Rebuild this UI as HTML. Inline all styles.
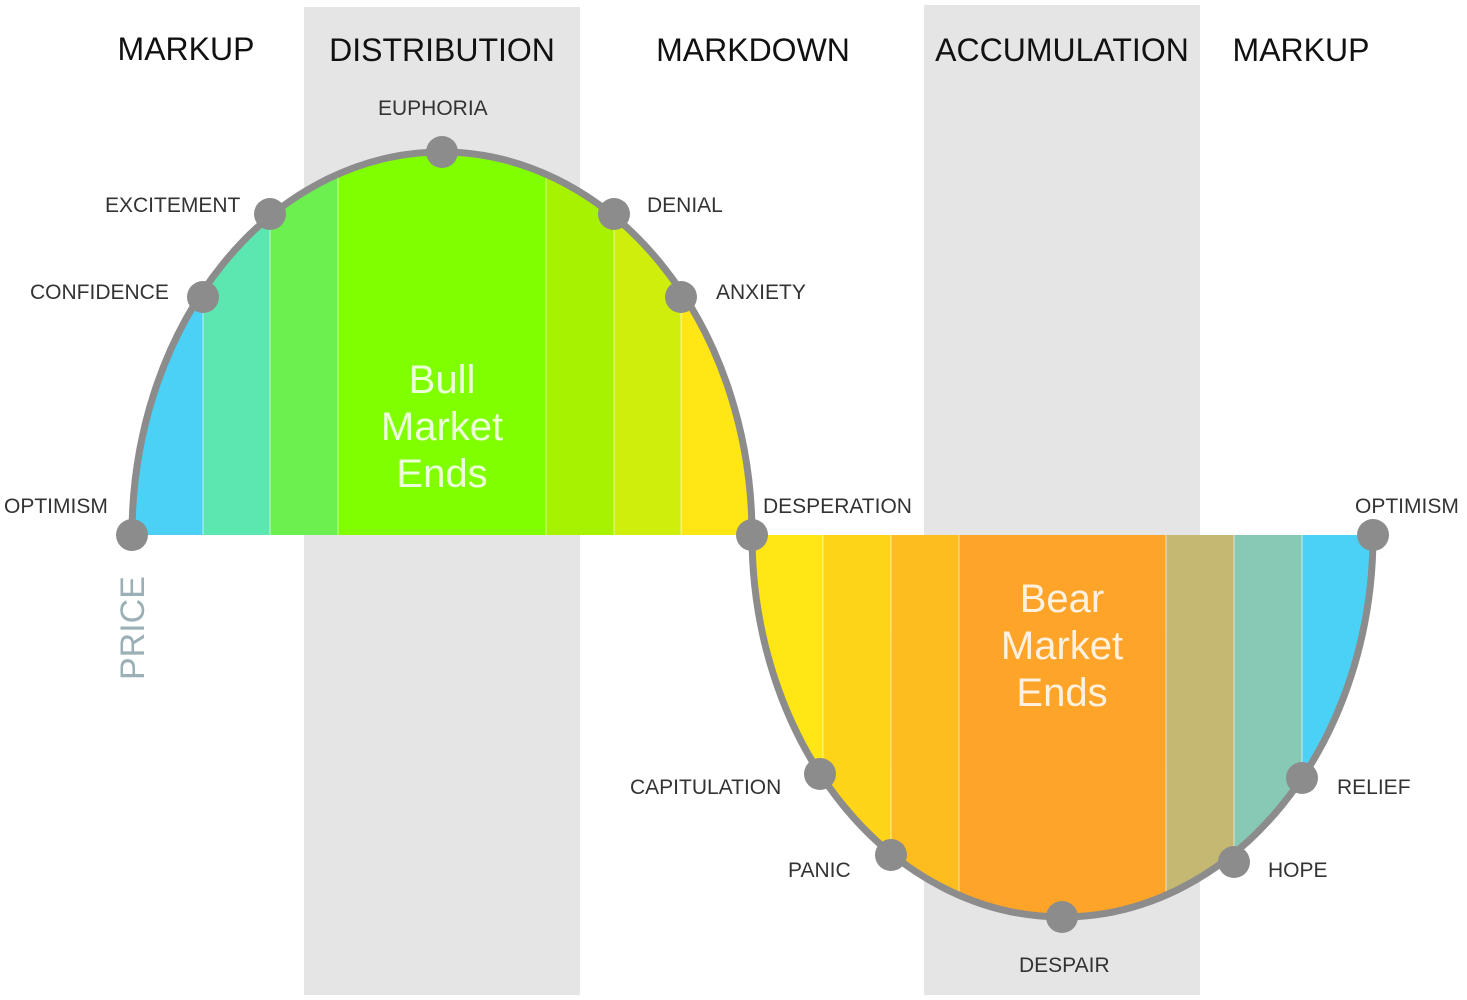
<!DOCTYPE html>
<html><head><meta charset="utf-8"><style>
html,body{margin:0;padding:0;background:#fff}
svg{display:block}
text{font-family:"Liberation Sans",sans-serif}
</style></head><body>
<svg width="1467" height="1000" viewBox="0 0 1467 1000">
<rect x="304" y="7" width="276" height="988" fill="#e5e5e5"/>
<rect x="924" y="5" width="276" height="990" fill="#e5e5e5"/>
<defs>
<clipPath id="top"><path d="M132,535 A310,383 0 0 1 752,535 Z"/></clipPath>
<clipPath id="bot"><path d="M752,535 A310.5,382 0 0 0 1373,535 Z"/></clipPath>
</defs>
<g clip-path="url(#top)">
<rect x="132" y="140" width="71" height="400" fill="#4bd1f6"/>
<rect x="203" y="140" width="67" height="400" fill="#5ce6b0"/>
<rect x="270" y="140" width="68" height="400" fill="#6cf050"/>
<rect x="338" y="140" width="208" height="400" fill="#80ff00"/>
<rect x="546" y="140" width="68" height="400" fill="#a6f200"/>
<rect x="614" y="140" width="67" height="400" fill="#d0ee0c"/>
<rect x="681" y="140" width="71" height="400" fill="#ffe614"/>
<g stroke="#fff" stroke-width="1" opacity="0.6">
<line x1="203" y1="140" x2="203" y2="540"/><line x1="270" y1="140" x2="270" y2="540"/>
<line x1="338" y1="140" x2="338" y2="540"/><line x1="546" y1="140" x2="546" y2="540"/>
<line x1="614" y1="140" x2="614" y2="540"/><line x1="681" y1="140" x2="681" y2="540"/>
</g>
</g>
<g clip-path="url(#bot)">
<rect x="752" y="530" width="71" height="400" fill="#ffe614"/>
<rect x="823" y="530" width="68" height="400" fill="#fdd417"/>
<rect x="891" y="530" width="68" height="400" fill="#fdbd1e"/>
<rect x="959" y="530" width="207" height="400" fill="#fea428"/>
<rect x="1166" y="530" width="68" height="400" fill="#c5b872"/>
<rect x="1234" y="530" width="68" height="400" fill="#88c9b5"/>
<rect x="1302" y="530" width="71" height="400" fill="#4bd1f6"/>
<g stroke="#fff" stroke-width="1" opacity="0.6">
<line x1="823" y1="530" x2="823" y2="930"/><line x1="891" y1="530" x2="891" y2="930"/>
<line x1="959" y1="530" x2="959" y2="930"/><line x1="1166" y1="530" x2="1166" y2="930"/>
<line x1="1234" y1="530" x2="1234" y2="930"/><line x1="1302" y1="530" x2="1302" y2="930"/>
</g>
</g>
<path d="M132,535 A310,383 0 0 1 752,535 A310.5,382 0 0 0 1373,535" fill="none" stroke="#8c8c8c" stroke-width="7"/>
<g fill="#8c8c8c">
<circle cx="132" cy="535" r="16"/><circle cx="203" cy="297" r="16"/><circle cx="270" cy="214" r="16"/>
<circle cx="442" cy="152" r="16"/><circle cx="614" cy="214" r="16"/><circle cx="681" cy="297" r="16"/>
<circle cx="752" cy="535" r="16"/><circle cx="820" cy="774" r="16"/><circle cx="891" cy="855" r="16"/>
<circle cx="1062" cy="917" r="16"/><circle cx="1234" cy="862" r="16"/><circle cx="1302" cy="778" r="16"/>
<circle cx="1373" cy="535" r="16"/>
</g>
<g font-size="32" fill="#111" text-anchor="middle">
<text x="186" y="60">MARKUP</text><text x="442" y="61">DISTRIBUTION</text>
<text x="753" y="61">MARKDOWN</text><text x="1062" y="61">ACCUMULATION</text><text x="1301" y="61">MARKUP</text>
</g>
<g font-size="21" fill="#333">
<text x="378" y="115">EUPHORIA</text>
<text x="105" y="212">EXCITEMENT</text>
<text x="30" y="299">CONFIDENCE</text>
<text x="4" y="513">OPTIMISM</text>
<text x="647" y="212">DENIAL</text>
<text x="716" y="299">ANXIETY</text>
<text x="763" y="513">DESPERATION</text>
<text x="1355" y="513">OPTIMISM</text>
<text x="630" y="794">CAPITULATION</text>
<text x="788" y="877">PANIC</text>
<text x="1019" y="972">DESPAIR</text>
<text x="1268" y="877">HOPE</text>
<text x="1337" y="794">RELIEF</text>
</g>
<g font-size="40" fill="#fff" fill-opacity="0.85" text-anchor="middle">
<text x="442" y="393">Bull</text><text x="442" y="440">Market</text><text x="442" y="487">Ends</text>
<text x="1062" y="612">Bear</text><text x="1062" y="659">Market</text><text x="1062" y="706">Ends</text>
</g>
<text transform="translate(144,680) rotate(-90)" font-size="34" fill="#9ab0b6">PRICE</text>
</svg>
</body></html>
